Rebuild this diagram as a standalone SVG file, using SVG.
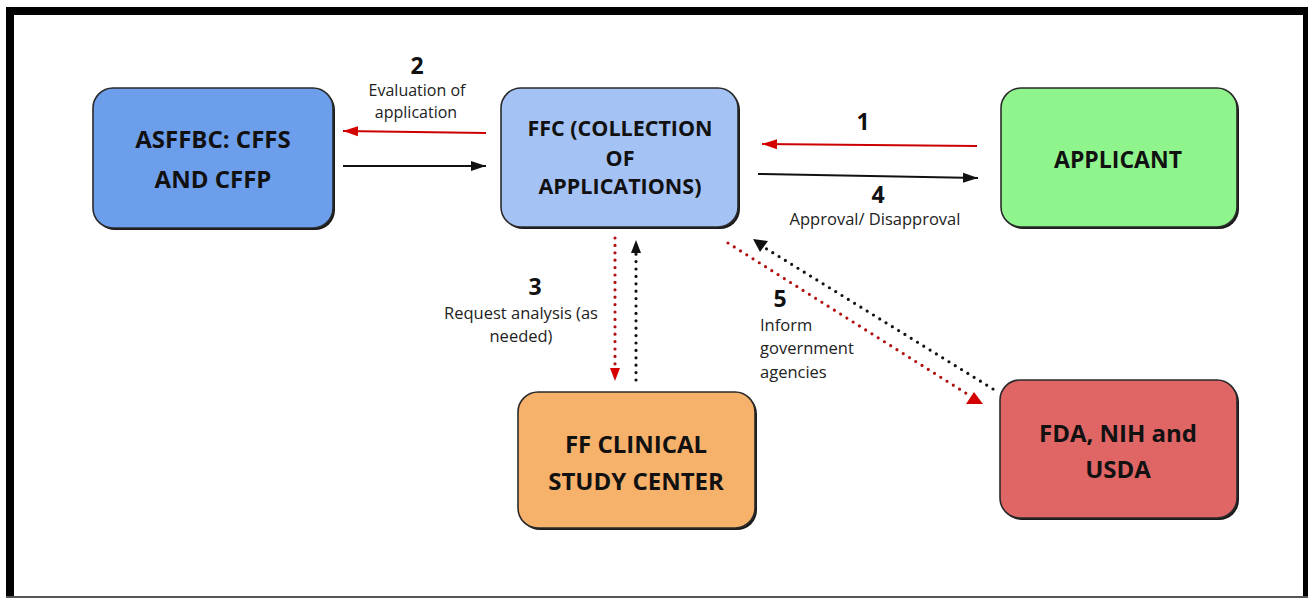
<svg xmlns="http://www.w3.org/2000/svg" width="1308" height="598" viewBox="0 0 1308 598">
<style>
.box{stroke:#2a2a2a;stroke-width:1.6}
.shadow{fill:#1a1a1a}
.nt{font-family:"Open Sans","Liberation Sans",sans-serif;font-weight:700;fill:#111;text-anchor:middle}
.num{font-family:"Open Sans","Liberation Sans",sans-serif;font-weight:700;font-size:23px;fill:#111;text-anchor:middle}
.lbl{font-family:"Open Sans","Liberation Sans",sans-serif;font-size:16.5px;fill:#222}
.lbs{font-size:16px}
.solid-r{stroke:#cc0000;stroke-width:2;fill:none}
.solid-k{stroke:#111;stroke-width:2;fill:none}
.dot-r{stroke:#b01010;stroke-width:3.2;stroke-linecap:round;stroke-dasharray:0 7.4;fill:none}
.dot-k{stroke:#111;stroke-width:3.2;stroke-linecap:round;stroke-dasharray:0 7.4;fill:none}
</style>
<defs>
<marker id="ar" markerWidth="16" markerHeight="12" refX="15" refY="6" orient="auto" markerUnits="userSpaceOnUse"><path d="M0,1 L15,6 L0,11 Z" fill="#d40000"/></marker>
<marker id="ak" markerWidth="16" markerHeight="12" refX="15" refY="6" orient="auto" markerUnits="userSpaceOnUse"><path d="M0,1 L15,6 L0,11 Z" fill="#111"/></marker>
</defs>
<rect x="0" y="0" width="1308" height="598" fill="#ffffff"/>
<g id="frame">
<rect x="6" y="7" width="1302" height="8" fill="#000"/>
<rect x="6" y="7" width="8" height="591" fill="#000"/>
<rect x="1303" y="7" width="5" height="591" fill="#000"/>
<rect x="6" y="596" width="1302" height="2" fill="#555"/>
</g>
<g id="connectors">
<line class="solid-r" x1="486" y1="133" x2="343" y2="131" marker-end="url(#ar)"/>
<line class="solid-k" x1="343" y1="166" x2="486" y2="166" marker-end="url(#ak)"/>
<line class="solid-r" x1="977" y1="146" x2="762" y2="144" marker-end="url(#ar)"/>
<line class="solid-k" x1="758" y1="174" x2="978" y2="178" marker-end="url(#ak)"/>
<line class="dot-r" x1="615" y1="238" x2="615" y2="372"/>
<path d="M610,368 L615,381 L620,368 Z" fill="#d40000"/>
<line class="dot-k" x1="636" y1="380" x2="636" y2="252"/>
<path d="M631,253 L636,240 L641,253 Z" fill="#111"/>
<line class="dot-r" x1="728" y1="243" x2="972" y2="397"/>
<path d="M966,404 L983,404 L974,392 Z" fill="#d40000"/>
<line class="dot-k" x1="993" y1="389" x2="762" y2="246"/>
<path d="M753,239 L768,241 L760,252 Z" fill="#111"/>
</g>
<g id="labels">
<text class="num" x="417" y="74">2</text>
<text class="lbl lbs" x="417" y="96" text-anchor="middle">Evaluation of</text>
<text class="lbl lbs" x="416" y="118" text-anchor="middle">application</text>
<text class="num" x="863" y="130">1</text>
<text class="num" x="878" y="203">4</text>
<text class="lbl" x="875" y="225" text-anchor="middle">Approval/ Disapproval</text>
<text class="num" x="535" y="295">3</text>
<text class="lbl" x="521" y="319" text-anchor="middle">Request analysis (as</text>
<text class="lbl" x="521" y="342" text-anchor="middle">needed)</text>
<text class="num" x="780" y="307">5</text>
<text class="lbl" x="760" y="331">Inform</text>
<text class="lbl" x="760" y="354">government</text>
<text class="lbl" x="760" y="378">agencies</text>
</g>
<g id="node-asffbc">
<rect class="shadow" x="95" y="90" width="240" height="140" rx="20"/>
<rect class="box" x="93" y="88" width="240" height="140" rx="20" fill="#6d9eeb"/>
<text class="nt" x="213" y="148" font-size="24">ASFFBC: CFFS</text>
<text class="nt" x="213" y="188" font-size="24">AND CFFP</text>
</g>
<g id="node-ffc">
<rect class="shadow" x="503" y="90" width="237" height="139" rx="20"/>
<rect class="box" x="501" y="88" width="237" height="139" rx="20" fill="#a4c2f4"/>
<text class="nt" x="620" y="136" font-size="21.5">FFC (COLLECTION</text>
<text class="nt" x="620" y="166" font-size="21.5">OF</text>
<text class="nt" x="620" y="194" font-size="21.5">APPLICATIONS)</text>
</g>
<g id="node-applicant">
<rect class="shadow" x="1003" y="90" width="236" height="139" rx="20"/>
<rect class="box" x="1001" y="88" width="236" height="139" rx="20" fill="#8ff48b"/>
<text class="nt" x="1118" y="168" font-size="23">APPLICANT</text>
</g>
<g id="node-ffclinical">
<rect class="shadow" x="520" y="394" width="237" height="136" rx="20"/>
<rect class="box" x="518" y="392" width="237" height="136" rx="20" fill="#f6b26b"/>
<text class="nt" x="636" y="453" font-size="24">FF CLINICAL</text>
<text class="nt" x="636" y="490" font-size="24">STUDY CENTER</text>
</g>
<g id="node-fda">
<rect class="shadow" x="1002" y="382" width="237" height="138" rx="20"/>
<rect class="box" x="1000" y="380" width="237" height="138" rx="20" fill="#e06666"/>
<text class="nt" x="1118" y="442" font-size="24">FDA, NIH and</text>
<text class="nt" x="1118" y="478" font-size="24">USDA</text>
</g>
</svg>
